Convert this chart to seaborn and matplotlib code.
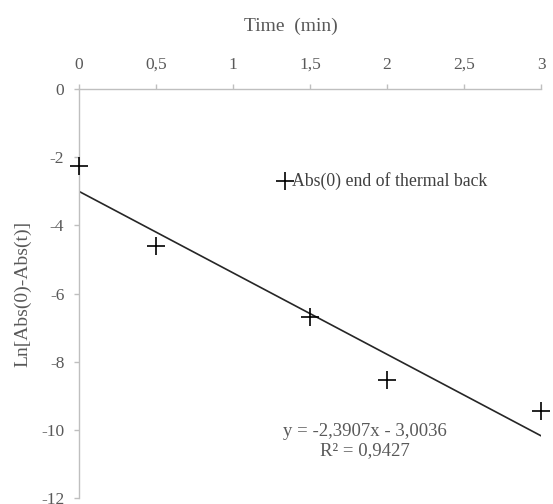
import matplotlib
matplotlib.use("Agg")
import matplotlib.pyplot as plt
import seaborn as sns
import numpy as np
import pandas as pd
from matplotlib.ticker import FuncFormatter, MultipleLocator

# Data
time_min = [0, 0.5, 1.5, 2, 3]
ln_abs = [-2.26, -4.6, -6.69, -8.55, -9.45]
slope = -2.3907
intercept = -3.0036
fit_x = [0, 3]
series_label = "Abs(0) end of thermal back"
eq_text = "y = -2,3907x - 3,0036\nR² = 0,9427"

sns.set_theme(style="white")
plt.rcParams['font.family'] = ['Liberation Serif', 'DejaVu Serif']

fig = plt.figure(figsize=(5.53, 5.04), dpi=100)
ax = fig.add_axes([0.1429, 0.0119, 0.8355, 0.8115])

df = pd.DataFrame({"t": time_min, "y": ln_abs})
fit_df = pd.DataFrame({"t": fit_x, "y": [slope * v + intercept for v in fit_x]})

sns.lineplot(data=fit_df, x="t", y="y", ax=ax, color="#262626", linewidth=1.2, legend=False)
sns.scatterplot(data=df, x="t", y="y", ax=ax, marker="+", s=150, color="black",
                linewidth=1.2, label=series_label, zorder=5, clip_on=False)

ax.set_xlim(0, 3)
ax.set_ylim(-12, 0)
ax.xaxis.set_major_locator(MultipleLocator(0.5))
ax.yaxis.set_major_locator(MultipleLocator(2))
fmt = FuncFormatter(lambda v, p: (f"{v:g}").replace(".", ","))
ax.xaxis.set_major_formatter(fmt)
ax.yaxis.set_major_formatter(fmt)

ax.xaxis.tick_top()
ax.xaxis.set_label_position("top")
for s in ["right", "bottom"]:
    ax.spines[s].set_visible(False)
for s in ["left", "top"]:
    ax.spines[s].set_color("#bfbfbf")
    ax.spines[s].set_linewidth(1.0)

ax.tick_params(axis="both", which="major", direction="out", length=3.6, width=1,
               color="#bfbfbf", labelcolor="#595959", labelsize=12.5)
ax.tick_params(axis="x", pad=8, top=True, bottom=False)
ax.tick_params(axis="y", pad=7, left=True)

ax.set_xlabel("Time  (min)", color="#595959", fontsize=14, labelpad=19)
ax.xaxis.label.set_x(0.459)
ax.set_ylabel("Ln[Abs(0)-Abs(t)]", color="#595959", fontsize=14, labelpad=7)

leg = ax.legend(loc="center left", bbox_to_anchor=(0.403, 0.775), frameon=False,
                fontsize=12.8, handletextpad=-0.3, handlelength=1.4, borderaxespad=0)
for t in leg.get_texts():
    t.set_color("#404040")

ax.text(0.618, 0.139, eq_text, transform=ax.transAxes, ha="center", va="center",
        fontsize=13.5, color="#595959", linespacing=1.2)

fig.savefig("out.png", dpi=100)
